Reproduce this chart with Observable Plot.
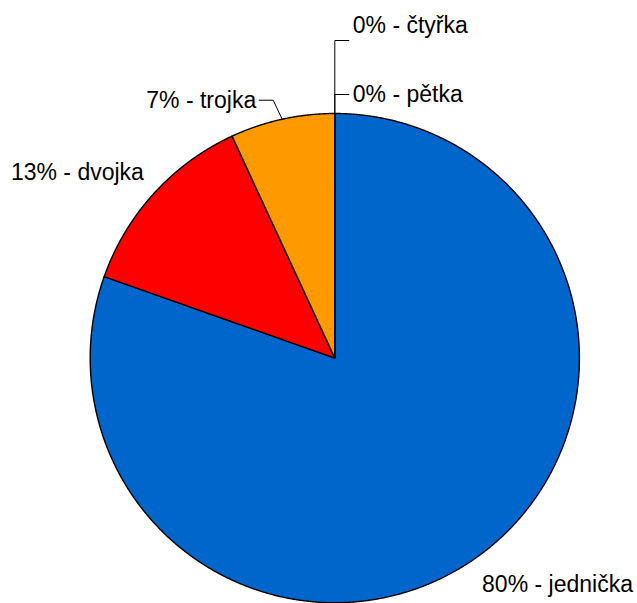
<!DOCTYPE html>
<html><head><meta charset="utf-8">
<script src="https://cdn.jsdelivr.net/npm/d3@7"></script>
<script src="https://cdn.jsdelivr.net/npm/@observablehq/plot@0.6"></script>
<style>html,body{margin:0;padding:0;background:#fff} svg{display:block}</style>
</head><body><div id="chart"></div>
<script>
// ---- data ----
const categories = ["jednička", "dvojka", "trojka", "čtyřka", "pětka"];
const shares = [80.4, 12.7, 6.9, 0, 0];
const colors = ["#0066CC", "#FF0000", "#FF9900", "#FFFF66", "#66CC66"];

// ---- geometry (pixels) ----
const W = 637, H = 603;
const CX = 334.3, CY = 357.6, R = 244.6;
const u = px => px / R; // pixel -> data units

// per-label layout (pixel offsets, styling only)
const layout = {
  "jednička": {dx: 6, dy: 27, anchor: "start"},
  "dvojka":   {dx: -10, dy: -21, anchor: "end"},
  "trojka":   {elbow: [-9, -19], tail: -14, anchor: "end"},
  "čtyřka":   {elbow: [0, -73], tail: 14, anchor: "start", textDy: -15},
  "pětka":    {elbow: [0, -19], tail: 14, anchor: "start"}
};

const total = d3.sum(shares);
let acc = 0;
const slices = categories.map((c, i) => {
  const a0 = acc / total * 2 * Math.PI;
  acc += shares[i];
  const a1 = acc / total * 2 * Math.PI;
  return {cat: c, value: shares[i], a0, a1, mid: (a0 + a1) / 2,
          label: `${Math.round(shares[i])}% - ${c}`};
});

// polygon points of each slice
const piePts = [];
for (const s of slices) {
  if (s.value <= 0) continue;
  piePts.push({cat: s.cat, x: 0, y: 0});
  const n = Math.max(2, Math.ceil((s.a1 - s.a0) / (Math.PI / 720)));
  for (let k = 0; k <= n; k++) {
    const a = s.a0 + (s.a1 - s.a0) * k / n;
    piePts.push({cat: s.cat, x: Math.sin(a), y: Math.cos(a)});
  }
}

// leaders and label positions
const leaderPts = [];
const textPts = [];
for (const s of slices) {
  const L = layout[s.cat];
  const ex = Math.sin(s.mid), ey = Math.cos(s.mid);
  if (L.elbow) {
    const bx = ex + u(L.elbow[0]), by = ey - u(L.elbow[1]);
    const tx = bx + u(L.tail);
    leaderPts.push({cat: s.cat, x: ex, y: ey}, {cat: s.cat, x: bx, y: by}, {cat: s.cat, x: tx, y: by});
    textPts.push({cat: s.cat, label: s.label, anchor: L.anchor,
      x: tx + u(L.tail > 0 ? 4 : -3), y: by - u(L.textDy || 0)});
  } else {
    textPts.push({cat: s.cat, label: s.label, anchor: L.anchor,
      x: ex + u(L.dx), y: ey - u(L.dy)});
  }
}

const textOpts = anchor => ({
  x: "x", y: "y", text: "label", textAnchor: anchor, lineAnchor: "middle",
  fontSize: 23, fill: "#000"
});

const chart = Plot.plot({
  width: W, height: H, margin: 0,
  x: {domain: [-u(CX), u(W - CX)], axis: null},
  y: {domain: [-u(H - CY), u(CY)], axis: null},
  color: {domain: categories, range: colors},
  style: {fontFamily: "'Liberation Sans', Arial, sans-serif", background: "#fff"},
  marks: [
    Plot.line(piePts, {x: "x", y: "y", z: "cat", fill: "cat", stroke: "#000",
      strokeWidth: 1.4, curve: "linear-closed", strokeLinejoin: "round"}),
    Plot.line(leaderPts, {x: "x", y: "y", z: "cat", stroke: "#000", strokeWidth: 1}),
    Plot.text(textPts.filter(d => d.anchor === "start"), textOpts("start")),
    Plot.text(textPts.filter(d => d.anchor === "end"), textOpts("end"))
  ]
});
document.getElementById("chart").append(chart);
</script>
</body></html>
